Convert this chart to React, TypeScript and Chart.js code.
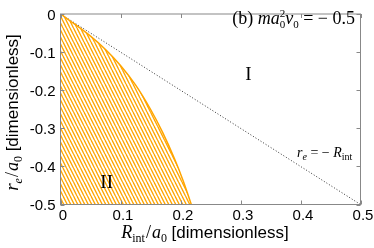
import React, { useEffect, useRef } from "react";
import { Chart, registerables } from "chart.js";

Chart.register(...registerables);

// ---- data ----
const curveR = [0, 0.025, 0.05, 0.075, 0.1, 0.125, 0.15, 0.17, 0.19, 0.205, 0.218];
const curveRe = [0, -0.028, -0.058, -0.093, -0.135, -0.186, -0.25, -0.31, -0.38, -0.44, -0.5];
const diagR = [0, 0.5];
const diagRe = [0, -0.5];
const xTicks = [0, 0.1, 0.2, 0.3, 0.4, 0.5];
const yTicks = [0, -0.1, -0.2, -0.3, -0.4, -0.5];

const SERIF = '"Liberation Serif", "DejaVu Serif", serif';
const SANS = '"Liberation Sans", Arial, sans-serif';

type Run = {
  t: string;
  f: string;
  dy?: number;
  gap?: number;
  sup?: string;
  sub?: string;
  supDy?: number;
  subDy?: number;
};

function runWidth(ctx: CanvasRenderingContext2D, r: Run) {
  ctx.font = r.f;
  if (r.sup !== undefined || r.sub !== undefined) {
    return Math.max(ctx.measureText(r.sup || "").width, ctx.measureText(r.sub || "").width) + (r.gap || 0);
  }
  return ctx.measureText(r.t).width + (r.gap || 0);
}

function drawRuns(
  ctx: CanvasRenderingContext2D,
  x: number,
  y: number,
  runs: Run[],
  align: "left" | "center" | "right"
) {
  const total = runs.reduce((s, r) => s + runWidth(ctx, r), 0);
  let cx = align === "left" ? x : align === "center" ? x - total / 2 : x - total;
  ctx.textAlign = "left";
  ctx.textBaseline = "alphabetic";
  for (const r of runs) {
    ctx.font = r.f;
    cx += r.gap || 0;
    if (r.sup !== undefined || r.sub !== undefined) {
      if (r.sup) ctx.fillText(r.sup, cx, y + (r.supDy ?? -7));
      if (r.sub) ctx.fillText(r.sub, cx, y + (r.subDy ?? 4));
      cx += runWidth(ctx, r) - (r.gap || 0);
    } else {
      ctx.fillText(r.t, cx, y + (r.dy || 0));
      cx += ctx.measureText(r.t).width;
    }
  }
}

function makeHatch(): CanvasPattern | string {
  const c = document.createElement("canvas");
  c.width = 7;
  c.height = 14;
  const g = c.getContext("2d");
  if (!g) return "rgba(255,165,0,0.5)";
  g.strokeStyle = "#FFA500";
  g.lineWidth = 1.3;
  for (const x0 of [-7, -3.5, 0, 3.5, 7]) {
    g.beginPath();
    g.moveTo(x0, 0);
    g.lineTo(x0 + 7, 14);
    g.stroke();
  }
  const p = g.createPattern(c, "repeat");
  return p || "rgba(255,165,0,0.5)";
}

const decor = {
  id: "decor",
  afterDraw(chart: any) {
    const ctx: CanvasRenderingContext2D = chart.ctx;
    const { left, right, top, bottom } = chart.chartArea;
    const xs = chart.scales.x;
    const ys = chart.scales.y;
    ctx.save();
    // frame
    ctx.strokeStyle = "#888";
    ctx.lineWidth = 1;
    ctx.strokeRect(left, top, right - left, bottom - top);
    // inward ticks
    ctx.beginPath();
    for (const v of xTicks) {
      const px = Math.round(xs.getPixelForValue(v)) + 0.5;
      ctx.moveTo(px, bottom);
      ctx.lineTo(px, bottom - 4);
      ctx.moveTo(px, top);
      ctx.lineTo(px, top + 4);
    }
    for (const v of yTicks) {
      const py = Math.round(ys.getPixelForValue(v)) + 0.5;
      ctx.moveTo(left, py);
      ctx.lineTo(left + 4, py);
      ctx.moveTo(right, py);
      ctx.lineTo(right - 4, py);
    }
    ctx.stroke();

    ctx.fillStyle = "#000";
    // top-right label
    drawRuns(
      ctx,
      355,
      24,
      [
        { t: "(b) ", f: `18px ${SERIF}` },
        { t: "m", f: `italic 18px ${SERIF}` },
        { t: "a", f: `italic 18px ${SERIF}` },
        { t: "", f: `11px ${SERIF}`, sup: "2", sub: "0", supDy: -7, subDy: 4 },
        { t: "ν", f: `italic 18px ${SERIF}` },
        { t: "0", f: `11px ${SERIF}`, dy: 4 },
        { t: " = \u2212 0.5", f: `18px ${SERIF}` },
      ],
      "right"
    );
    // region labels
    drawRuns(ctx, 248.5, 80, [{ t: "I", f: `19px ${SERIF}` }], "center");
    drawRuns(ctx, 106.7, 188.3, [{ t: "II", f: `19px ${SERIF}` }], "center");
    // line label
    drawRuns(
      ctx,
      297,
      156.5,
      [
        { t: "r", f: `italic 14px ${SERIF}` },
        { t: "e", f: `italic 10px ${SERIF}`, dy: 3 },
        { t: " = \u2212 ", f: `14px ${SERIF}` },
        { t: "R", f: `italic 14px ${SERIF}` },
        { t: "int", f: `10px ${SERIF}`, dy: 3 },
      ],
      "left"
    );
    // x title
    drawRuns(
      ctx,
      205,
      238,
      [
        { t: "R", f: `italic 18px ${SERIF}` },
        { t: "int", f: `12px ${SERIF}`, dy: 4 },
        { t: "/", f: `18px ${SERIF}`, gap: 1 },
        { t: "a", f: `italic 18px ${SERIF}`, gap: 1 },
        { t: "0", f: `12px ${SERIF}`, dy: 4 },
        { t: " [dimensionless]", f: `17px ${SANS}` },
      ],
      "center"
    );
    // y title
    ctx.translate(18, 112.5);
    ctx.rotate(-Math.PI / 2);
    drawRuns(
      ctx,
      0,
      0,
      [
        { t: "r", f: `italic 19px ${SERIF}` },
        { t: "e", f: `italic 12px ${SERIF}`, dy: 4 },
        { t: "/", f: `18px ${SERIF}`, gap: 1 },
        { t: "a", f: `italic 18px ${SERIF}`, gap: 1 },
        { t: "0", f: `12px ${SERIF}`, dy: 4 },
        { t: " [dimensionless]", f: `17px ${SANS}` },
      ],
      "center"
    );
    ctx.restore();
  },
};

const fmt = (v: any) => {
  const n = Number(v);
  if (Math.abs(n) < 1e-9) return "0";
  return n.toFixed(1);
};

export default function App() {
  const ref = useRef<HTMLCanvasElement | null>(null);
  useEffect(() => {
    document.body.style.margin = "0";
    if (!ref.current) return;
    const hatch = makeHatch();
    const chart = new Chart(ref.current, {
      type: "line",
      data: {
        datasets: [
          {
            data: curveR.map((r, i) => ({ x: r, y: curveRe[i] })),
            borderColor: "#FFA500",
            borderWidth: 1.5,
            backgroundColor: hatch as any,
            fill: "start",
            pointRadius: 0,
            cubicInterpolationMode: "monotone",
          },
          {
            data: diagR.map((r, i) => ({ x: r, y: diagRe[i] })),
            borderColor: "#333",
            borderWidth: 1,
            borderDash: [1, 2],
            fill: false,
            pointRadius: 0,
          },
        ],
      },
      options: {
        responsive: false,
        animation: false,
        devicePixelRatio: 1,
        layout: { padding: { top: 6.5, right: 13.5, left: 0, bottom: 0 } },
        plugins: { legend: { display: false }, tooltip: { enabled: false } },
        scales: {
          x: {
            type: "linear",
            min: 0,
            max: 0.5,
            afterBuildTicks: (s: any) => {
              s.ticks = xTicks.map((v) => ({ value: v }));
            },
            afterFit: (s: any) => {
              s.height = 43.5;
            },
            grid: { display: false, drawTicks: false },
            border: { display: false },
            ticks: {
              callback: fmt,
              font: { family: SANS, size: 15 },
              color: "#000",
              padding: 2,
              labelOffset: 2.5,
              maxRotation: 0,
              autoSkip: false,
            },
          },
          y: {
            type: "linear",
            min: -0.5,
            max: 0,
            afterBuildTicks: (s: any) => {
              s.ticks = yTicks.map((v) => ({ value: v }));
            },
            afterFit: (s: any) => {
              s.width = 60.5;
            },
            grid: { display: false, drawTicks: false },
            border: { display: false },
            ticks: {
              callback: fmt,
              font: { family: SANS, size: 15 },
              color: "#000",
              padding: 5,
              labelOffset: 1.5,
              autoSkip: false,
            },
          },
        },
      },
      plugins: [decor],
    });
    return () => chart.destroy();
  }, []);
  return <canvas ref={ref} width={374} height={248} style={{ display: "block" }} />;
}
